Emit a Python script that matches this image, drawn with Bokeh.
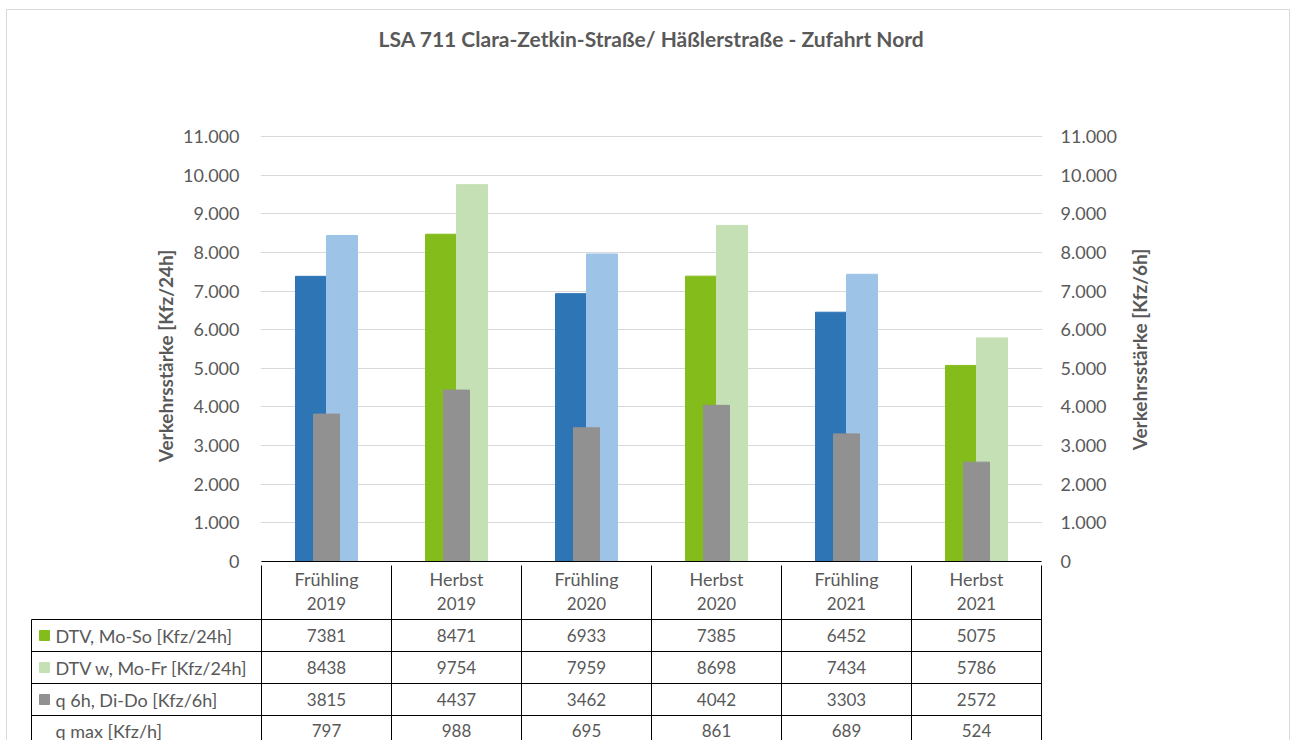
import math
from bokeh.plotting import figure
from bokeh.models import Range1d, LinearAxis, FixedTicker, ColumnDataSource, Title
from bokeh.layouts import column
from bokeh.embed import file_html
from bokeh.resources import INLINE
from bokeh.core.properties import value

# ---------------- data ----------------
chart_title = "LSA 711 Clara-Zetkin-Straße/ Häßlerstraße - Zufahrt Nord"
seasons = ["Frühling", "Herbst", "Frühling", "Herbst", "Frühling", "Herbst"]
years = ["2019", "2019", "2020", "2020", "2021", "2021"]
dtv_mo_so = [7381, 8471, 6933, 7385, 6452, 5075]
dtv_w_mo_fr = [8438, 9754, 7959, 8698, 7434, 5786]
q6h_di_do = [3815, 4437, 3462, 4042, 3303, 2572]
q_max = [797, 988, 695, 861, 689, 524]
row_labels = ["DTV, Mo-So [Kfz/24h]", "DTV w, Mo-Fr [Kfz/24h]",
              "q 6h, Di-Do [Kfz/6h]", "q max [Kfz/h]"]
y_ticks = [0, 1000, 2000, 3000, 4000, 5000, 6000, 7000, 8000, 9000, 10000, 11000]
y_tick_labels = ["0", "1.000", "2.000", "3.000", "4.000", "5.000", "6.000",
                 "7.000", "8.000", "9.000", "10.000", "11.000"]
left_title = "Verkehrsstärke [Kfz/24h]"
right_title = "Verkehrsstärke [Kfz/6h]"

# ---------------- styles ----------------
FONT = "Lato"
TXT = "#595959"
dark_col = {"Frühling": "#2E75B6", "Herbst": "#84BC1C"}
light_col = {"Frühling": "#9DC3E6", "Herbst": "#C5E0B4"}
GRAY = "#919191"
key_colors = ["#84BC1C", "#C5E0B4", GRAY]

# ---------------- layout constants (page px) ----------------
OX, OY = 8, 11              # page position of the figures' origin
W = 1282
PX0, CW = 262, 130          # left edge of first category, category width
Y0, Y11 = 562, 137          # page y of value 0 and 11000
TOP_END = 580               # page y where the chart canvas ends
OVERLAP = 14                # table canvas starts this much above TOP_END
T0 = TOP_END - OVERLAP      # page y where the table canvas begins
PAGE_END = 741
TOP_H = TOP_END - OY
BOT_H = PAGE_END - T0
FRAME_TOP = 133
RT_CX, RT_CY, RT_W, RT_H = 1140, 350, 40, 240   # right axis title box
scale = (Y0 - Y11) / 11000.0
y_start = -(TOP_END - Y0) / scale
y_end = 11000 + (Y11 - FRAME_TOP) / scale
n = len(seasons)

def px2x(px):
    return (px - PX0) / CW

# ---------------- chart ----------------
p = figure(width=W, height=TOP_H, output_backend="svg", toolbar_location=None,
           title=None,
           x_range=Range1d(px2x(PX0 - 1), px2x(PX0 + n * CW + 1)),
           y_range=Range1d(y_start, y_end),
           x_axis_location=None,
           min_border_left=PX0 - 1 - OX, min_border_right=W - (PX0 + n * CW + 1 - OX),
           min_border_top=FRAME_TOP - OY, min_border_bottom=0,
           outline_line_color=None, frame_align=False)
p.extra_y_ranges = {"sec": Range1d(y_start, y_end)}

centers = [i + 0.5 for i in range(n)]
bw = 31 / CW
src = ColumnDataSource(dict(
    xd=[c - bw / 2 for c in centers], xl=[c + bw / 2 for c in centers], xc=centers,
    dtv=dtv_mo_so, dtvw=dtv_w_mo_fr, q6=q6h_di_do,
    cd=[dark_col[s] for s in seasons], cl=[light_col[s] for s in seasons]))
p.vbar(x="xd", top="dtv", bottom=0, width=bw, fill_color="cd", line_color="cd", source=src)
p.vbar(x="xl", top="dtvw", bottom=0, width=bw, fill_color="cl", line_color="cl", source=src)
p.vbar(x="xc", top="q6", bottom=0, width=26 / CW, fill_color=GRAY, line_color=GRAY,
       source=src, y_range_name="sec")

# table top border
p.segment(x0=[0], y0=[0], x1=[n], y1=[0], line_color="black", line_width=1)

ticker = FixedTicker(ticks=y_ticks)
overrides = {t: l for t, l in zip(y_ticks, y_tick_labels)}
p.yaxis.ticker = ticker
p.yaxis.major_label_overrides = overrides
right_axis = LinearAxis(y_range_name="sec", ticker=FixedTicker(ticks=y_ticks),
                        major_label_overrides=overrides)
p.add_layout(right_axis, "right")
for ax, so, lso in ((p.yaxis[0], 21, 3), (right_axis, 18, 19)):
    ax.axis_line_color = None
    ax.major_tick_line_color = None
    ax.minor_tick_line_color = None
    ax.major_tick_in = 0
    ax.major_tick_out = 0
    ax.major_label_standoff = so
    ax.major_label_text_font = FONT
    ax.major_label_text_font_size = "18px"
    ax.major_label_text_color = TXT
    ax.axis_label_text_font = FONT
    ax.axis_label_text_font_size = "19px"
    ax.axis_label_text_font_style = "bold"
    ax.axis_label_text_color = TXT
    ax.axis_label_standoff = lso
p.yaxis[0].axis_label = left_title

p.xgrid.visible = False
p.ygrid.ticker = ticker
p.ygrid.grid_line_color = "#D9D9D9"
p.ygrid.grid_line_width = 1

# spacer (closest to frame) then the chart title above it
p.add_layout(Title(text="\u00a0", text_font=FONT, text_font_size="21px",
                   standoff=50), "above")
p.add_layout(Title(text=chart_title, align="center", text_font=FONT,
                   text_font_size="21px", text_font_style="bold",
                   text_color=TXT, standoff=10), "above")

# ---------------- right axis title (overlaid, reads bottom-to-top) ----------------
rt_top = RT_CY - RT_H // 2
rt = figure(width=RT_W, height=RT_H, output_backend="svg", toolbar_location=None,
            x_range=Range1d(0, 1), y_range=Range1d(0, 1),
            x_axis_location=None, y_axis_location=None, min_border=0,
            outline_line_color=None, frame_align=False,
            border_fill_color=None, background_fill_color=None,
            styles={"margin-top": "%dpx" % (rt_top - TOP_END),
                    "margin-left": "%dpx" % (RT_CX - RT_W // 2 - OX)})
rt.grid.visible = False
rt.text(x=[0.5], y=[0.5], text=[right_title], angle=math.pi / 2,
        text_align="center", text_baseline="middle", text_font=value(FONT),
        text_font_size="19px", text_font_style="bold", text_color=TXT)

# ---------------- data table ----------------
b = figure(width=W, height=BOT_H, output_backend="svg", toolbar_location=None,
           x_range=Range1d(px2x(22), px2x(PX0 + n * CW + 2)),
           y_range=Range1d(T0 + BOT_H, T0),
           x_axis_location=None, y_axis_location=None,
           min_border_left=22 - OX, min_border_right=W - (PX0 + n * CW + 2 - OX),
           min_border_top=0, min_border_bottom=0, outline_line_color=None,
           frame_align=False, border_fill_color=None, background_fill_color=None,
           styles={"margin-top": "%dpx" % (T0 - (rt_top + RT_H))})
b.grid.visible = False

bounds = list(range(n + 1))
row_lines = [620, 652, 684, 716]
row_centers = [636, 668, 700, 731]
xl_border = px2x(32)
b.segment(x0=bounds, y0=[Y0] * (n + 1), x1=bounds, y1=[T0 + BOT_H] * (n + 1),
          line_color="black", line_width=1)
b.segment(x0=[xl_border], y0=[row_lines[0]], x1=[xl_border], y1=[T0 + BOT_H],
          line_color="black", line_width=1)
b.segment(x0=[xl_border] * len(row_lines), y0=row_lines,
          x1=[n] * len(row_lines), y1=row_lines, line_color="black", line_width=1)

tf = dict(text_font=value(FONT), text_color=TXT, text_baseline="middle")
b.text(x=centers, y=[579] * n, text=seasons, text_align="center",
       text_font_size="18px", **tf)
b.text(x=centers, y=[604] * n, text=years, text_align="center",
       text_font_size="17px", **tf)
for r, vals in enumerate([dtv_mo_so, dtv_w_mo_fr, q6h_di_do, q_max]):
    b.text(x=centers, y=[row_centers[r]] * n, text=[str(v) for v in vals],
           text_align="center", text_font_size="17px", **tf)
b.text(x=[px2x(56)] * 4, y=row_centers, text=row_labels, text_align="left",
       text_font_size="18px", **tf)
b.rect(x=[px2x(45)] * 3, y=row_centers[:3], width=10, height=10,
       width_units="screen", height_units="screen",
       fill_color=key_colors, line_color=key_colors)

layout = column(p, rt, b, styles={"border": "1px solid #D9D9D9", "border-bottom": "none",
                                  "margin-left": "6px", "margin-top": "9px"})
open("out.html", "w").write(file_html(layout, INLINE))
